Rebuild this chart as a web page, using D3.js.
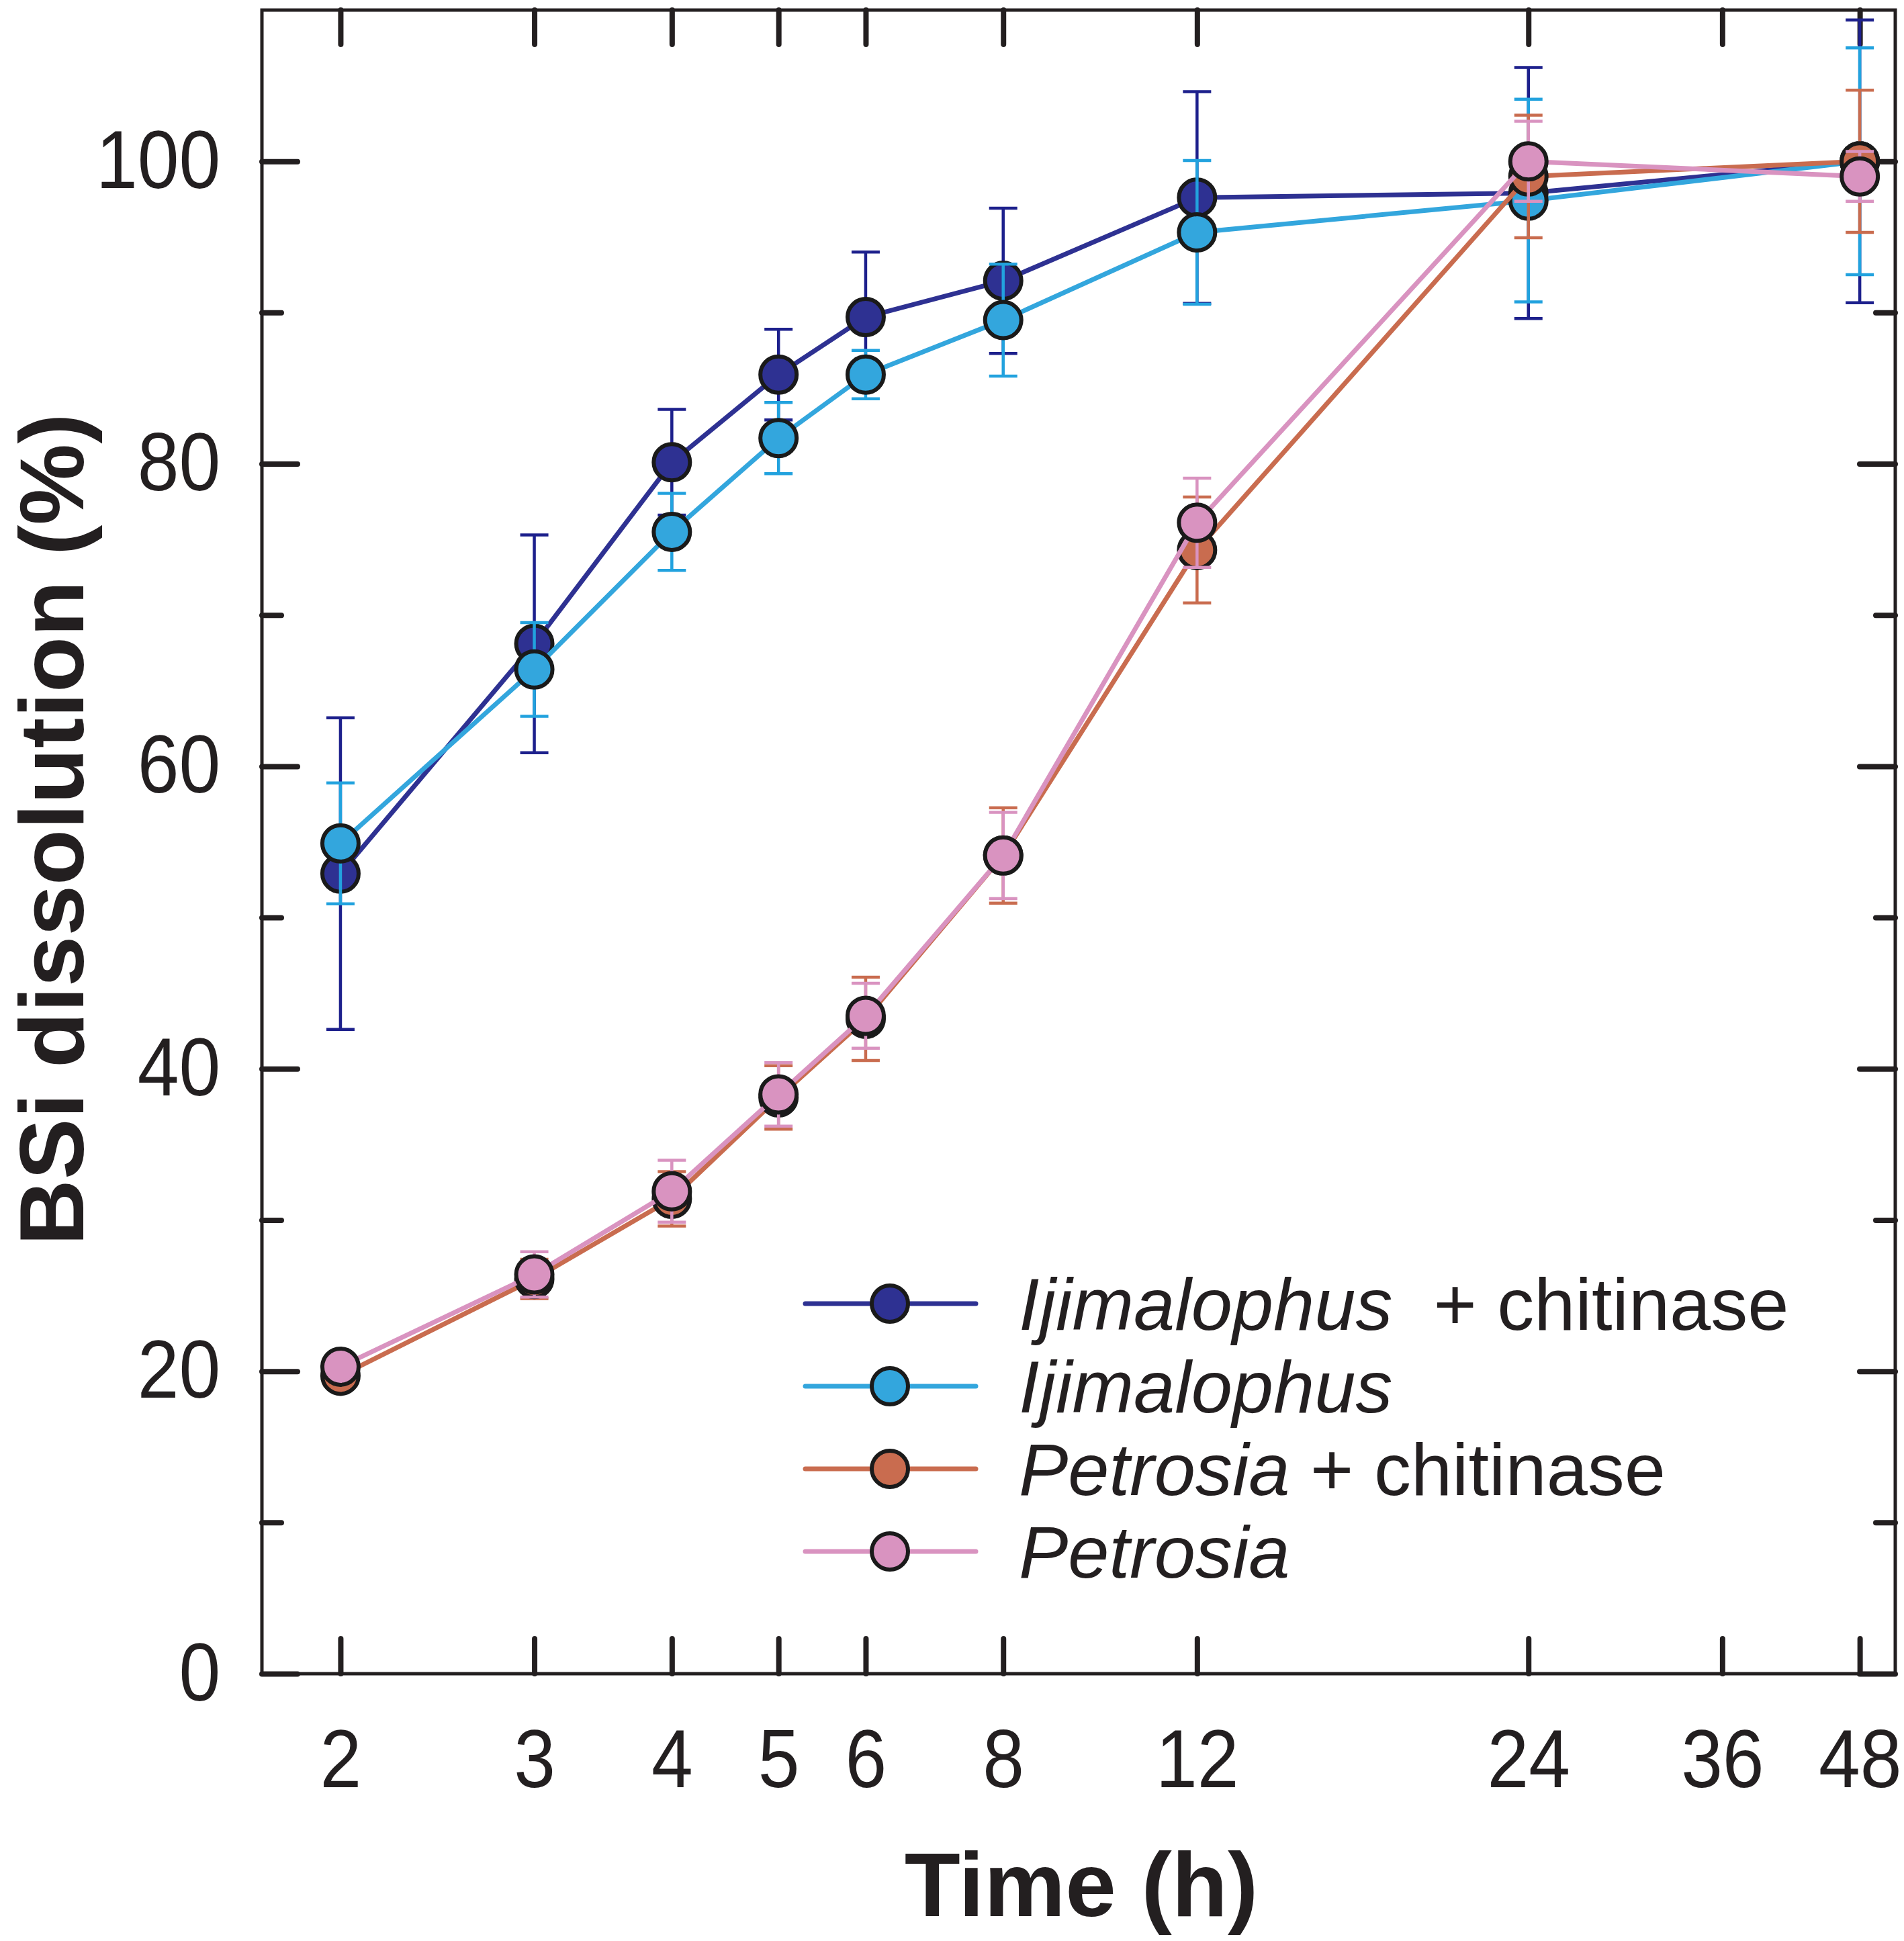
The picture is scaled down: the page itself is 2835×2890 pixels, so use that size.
<!DOCTYPE html>
<html>
<head>
<meta charset="utf-8">
<script src="https://cdn.jsdelivr.net/npm/d3@7"></script>
<style>
  body { margin: 0; background: #fff; }
  svg { display: block; }
  text { font-family: "Liberation Sans", Arial, sans-serif; fill: #231f20; }
</style>
</head>
<body>
<svg id="chart" width="2835" height="2890"></svg>
<script>
// sampling times (h)
var times = [2, 3, 4, 5, 6, 8, 12, 24, 48];
var xTicks = [2, 3, 4, 5, 6, 8, 12, 24, 36, 48];
var yMajor = [0, 20, 40, 60, 80, 100];
var yMinor = [10, 30, 50, 70, 90];

// BSi dissolution (%) and error
var ijiChitinase    = [52.9, 68.1, 80.1, 85.9, 89.7, 92.1, 97.6, 97.9, 100.0];
var ijiChitinaseErr = [10.3, 7.2, 3.5, 3.0, 4.3, 4.8, 7.0, 8.3, 9.35];
var iji             = [54.9, 66.4, 75.5, 81.7, 85.9, 89.5, 95.3, 97.4, 100.0];
var ijiErr          = [4.0, 3.1, 2.55, 2.35, 1.6, 3.7, 4.75, 6.7, 7.5];
var petChitinase    = [19.7, 26.1, 31.4, 38.1, 43.3, 54.1, 74.3, 99.0, 100.0];
var petChitinaseErr = [0.5, 1.3, 1.8, 2.1, 2.75, 3.15, 3.5, 4.05, 4.7];
var pet             = [20.3, 26.4, 31.9, 38.3, 43.5, 54.1, 76.1, 100.0, 99.0];
var petErr          = [0.6, 1.5, 2.05, 2.1, 2.15, 2.85, 2.95, 2.65, 1.65];

var seriesNames = ["Ijimalophus", "Ijimalophus", "Petrosia", "Petrosia"];
var seriesSuffix = ["  + chitinase", "", " + chitinase", ""];
var seriesColors = ["#2e3192", "#33a6dd", "#c96c4f", "#d993c0"];
var errColors = ["#1d208c", "#22a2de", "#c96c4f", "#d993c0"];

var series = [
  {values: ijiChitinase, err: ijiChitinaseErr},
  {values: iji, err: ijiErr},
  {values: petChitinase, err: petChitinaseErr},
  {values: pet, err: petErr}
].map(function(s, i) {
  return {
    name: seriesNames[i], suffix: seriesSuffix[i],
    color: seriesColors[i], errColor: errColors[i],
    points: times.map(function(t, j) { return {t: t, v: s.values[j], e: s.err[j]}; })
  };
});

var svg = d3.select("#chart"),
    margin = {top: 15, right: 13, bottom: 398, left: 390},
    width = +svg.attr("width") - margin.left - margin.right,
    height = +svg.attr("height") - margin.top - margin.bottom,
    g = svg.append("g").attr("transform", "translate(" + margin.left + "," + margin.top + ")");

var xScale = d3.scaleLog().domain([1.697, 51.7]).range([0, width]),
    yScale = d3.scaleLinear().domain([0, 110]).range([height, 0]);

var ink = "#231f20";

// frame
g.append("rect")
  .attr("width", width).attr("height", height)
  .attr("fill", "none").attr("stroke", ink).attr("stroke-width", 5);

// tick labels in the original are a little narrower than Arial
function styleAxis(sel, showLabels) {
  sel.select(".domain").remove();
  sel.selectAll(".tick line").attr("stroke", ink).attr("stroke-width", 8).attr("stroke-linecap", "round");
  if (!showLabels) sel.selectAll(".tick text").remove();
  else sel.selectAll(".tick text")
    .style("font-size", "122px").attr("fill", ink)
    .attr("transform", "scale(0.91,1)");
}

g.append("g")
  .attr("transform", "translate(0," + height + ")")
  .call(d3.axisBottom(xScale).tickValues(xTicks).tickFormat(d3.format("d")).tickSize(-52).tickPadding(82))
  .call(styleAxis, true);

g.append("g")
  .call(d3.axisTop(xScale).tickValues(xTicks).tickSize(-51))
  .call(styleAxis, false);

g.append("g")
  .call(d3.axisLeft(yScale).tickValues(yMajor).tickSize(-53).tickPadding(68))
  .call(styleAxis, true);
g.append("g")
  .call(d3.axisLeft(yScale).tickValues(yMinor).tickSize(-29))
  .call(styleAxis, false);

g.append("g")
  .attr("transform", "translate(" + width + ",0)")
  .call(d3.axisRight(yScale).tickValues(yMajor).tickSize(-53))
  .call(styleAxis, false);
g.append("g")
  .attr("transform", "translate(" + width + ",0)")
  .call(d3.axisRight(yScale).tickValues(yMinor).tickSize(-29))
  .call(styleAxis, false);

// axis titles
svg.append("text")
  .attr("x", margin.left + width / 2 + 4)
  .attr("y", 2853)
  .attr("text-anchor", "middle")
  .style("font-size", "136px").style("font-weight", "bold")
  .text("Time (h)");

svg.append("text")
  .attr("transform", "translate(124,1235) rotate(-90)")
  .attr("text-anchor", "middle")
  .style("font-size", "136px").style("font-weight", "bold")
  .text("BSi dissolution (%)");

// series
var line = d3.line()
  .x(function(d) { return xScale(d.t); })
  .y(function(d) { return yScale(d.v); });

var capHalf = 21, markerR = 27;

series.forEach(function(s) {
  var sg = g.append("g").attr("class", "series");

  sg.append("path")
    .attr("d", line(s.points))
    .attr("fill", "none").attr("stroke", s.color)
    .attr("stroke-width", 7).attr("stroke-linejoin", "round");

  var eb = sg.selectAll(".err").data(s.points).enter().append("g").attr("class", "err")
    .attr("stroke", s.errColor).attr("stroke-width", 4.5);
  eb.append("line")
    .attr("x1", function(d) { return xScale(d.t); }).attr("x2", function(d) { return xScale(d.t); })
    .attr("y1", function(d) { return yScale(d.v + d.e); }).attr("y2", function(d) { return yScale(d.v - d.e); });
  eb.append("line")
    .attr("x1", function(d) { return xScale(d.t) - capHalf; }).attr("x2", function(d) { return xScale(d.t) + capHalf; })
    .attr("y1", function(d) { return yScale(d.v + d.e); }).attr("y2", function(d) { return yScale(d.v + d.e); });
  eb.append("line")
    .attr("x1", function(d) { return xScale(d.t) - capHalf; }).attr("x2", function(d) { return xScale(d.t) + capHalf; })
    .attr("y1", function(d) { return yScale(d.v - d.e); }).attr("y2", function(d) { return yScale(d.v - d.e); });

  sg.selectAll(".pt").data(s.points).enter().append("circle")
    .attr("class", "pt")
    .attr("cx", function(d) { return xScale(d.t); })
    .attr("cy", function(d) { return yScale(d.v); })
    .attr("r", markerR)
    .attr("fill", s.color).attr("stroke", "#1a1a1a").attr("stroke-width", 6);
});

// legend
var legend = svg.append("g").attr("transform", "translate(1199,1941)");
var rowStep = 123;
var row = legend.selectAll(".leg").data(series).enter().append("g")
  .attr("class", "leg")
  .attr("transform", function(d, i) { return "translate(0," + (i * rowStep) + ")"; });

row.append("line")
  .attr("x1", 0).attr("x2", 254).attr("y1", 0).attr("y2", 0)
  .attr("stroke", function(d) { return d.color; })
  .attr("stroke-width", 7).attr("stroke-linecap", "round");
row.append("circle")
  .attr("cx", 126).attr("cy", 0).attr("r", markerR)
  .attr("fill", function(d) { return d.color; })
  .attr("stroke", "#1a1a1a").attr("stroke-width", 6);

var lt = row.append("text")
  .attr("x", 318).attr("y", 0).attr("dy", "0.35em")
  .attr("xml:space", "preserve")
  .style("font-size", "110px").style("white-space", "pre");
lt.append("tspan").style("font-style", "italic").text(function(d) { return d.name; });
lt.append("tspan").text(function(d) { return d.suffix; });
</script>
</body>
</html>
